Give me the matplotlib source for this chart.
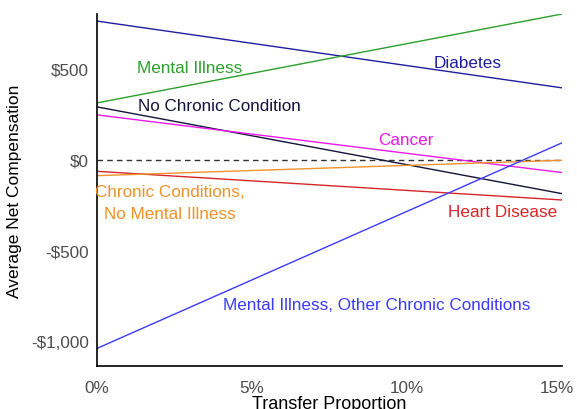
import matplotlib
matplotlib.use("Agg")
import matplotlib.pyplot as plt
from matplotlib.ticker import FuncFormatter
from matplotlib.transforms import ScaledTranslation

plt.rcParams['font.family'] = ['Liberation Sans', 'DejaVu Sans']

x_vals = [0.0, 0.15]
series_names = ["Diabetes", "Mental Illness", "No Chronic Condition", "Cancer",
                "Heart Disease", "Chronic Conditions,\nNo Mental Illness",
                "Mental Illness, Other Chronic Conditions"]
start_vals = [764, 313, 291, 247, -64, -88, -1040]
end_vals = [396, 803, -187, -71, -222, -3, 93]
colors = ["#1f1fa0", "#2ca02c", "#14143c", "#e81ae8", "#d62728", "#f0922a", "#3b3bff"]
label_x = [0.1197, 0.0298, 0.0396, 0.0995, 0.1310, 0.0235, 0.0902]
label_y = [535, 510, 297, 112, -285, -235, -800]

y_ticks = [-1000, -500, 0, 500]
x_ticks = [0, 0.05, 0.10, 0.15]

fig = plt.figure(figsize=(5.77, 4.10), dpi=100)
ax = fig.add_axes([97/577, 43/410, (562-97)/577, (367-15)/410])

ax.axhline(0, color="#333333", lw=1.0, ls=(0, (4, 3)))
for name, s, e, c, lx, ly in zip(series_names, start_vals, end_vals, colors, label_x, label_y):
    ax.plot(x_vals, [s, e], color=c, lw=1.0)
    ax.text(lx, ly, name, color=c, fontsize=12.3, ha="center", va="center",
            linespacing=1.55)

ax.set_xlim(0, 0.15)
ax.set_ylim(-1137, 803)
ax.set_xticks(x_ticks)
ax.set_yticks(y_ticks)
ax.xaxis.set_major_formatter(FuncFormatter(lambda v, p: f"{v*100:.0f}%"))
ax.yaxis.set_major_formatter(FuncFormatter(lambda v, p: ("-" if v < 0 else "") + f"${abs(v):,.0f}"))
ax.tick_params(length=0, labelsize=12.3, labelcolor="#4d4d4d")
ax.tick_params(axis="x", pad=10)
ax.tick_params(axis="y", pad=6)
for s in ["top", "right"]:
    ax.spines[s].set_visible(False)
for s in ["left", "bottom"]:
    ax.spines[s].set_linewidth(1.2)
ax.set_xlabel("Transfer Proportion", fontsize=13, labelpad=0)
ax.set_ylabel("Average Net Compensation", fontsize=12.5, labelpad=6)

fig.canvas.draw()
xt = ax.get_xticklabels()
xt[-1].set_transform(xt[-1].get_transform() + ScaledTranslation(-5/100, 0, fig.dpi_scale_trans))

fig.savefig("out.png", dpi=100)
